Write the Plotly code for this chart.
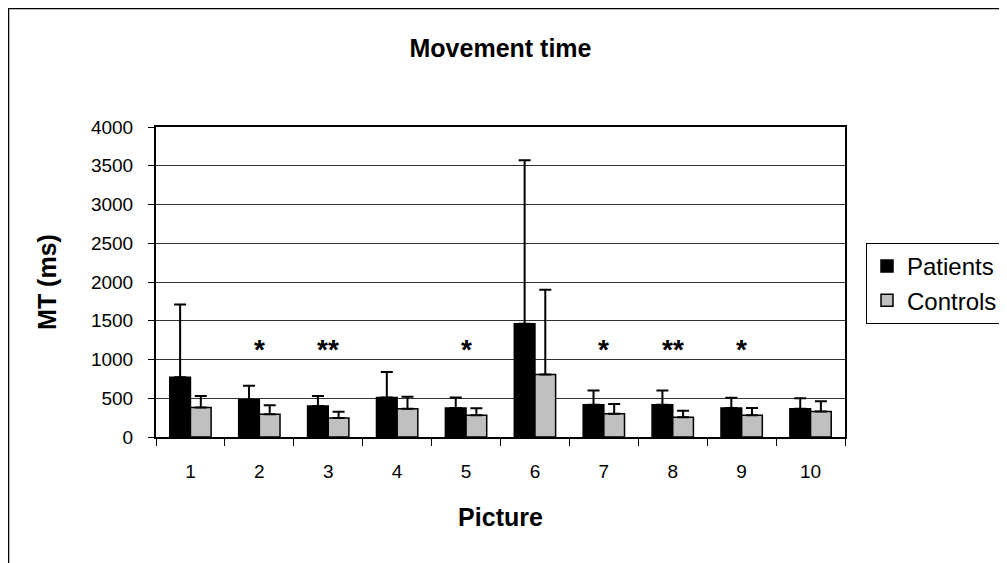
import plotly.graph_objects as go

pictures = ["1", "2", "3", "4", "5", "6", "7", "8", "9", "10"]
patients_mean = [770, 480, 400, 510, 375, 1460, 415, 415, 375, 365]
patients_sd = [940, 180, 130, 330, 135, 2110, 185, 185, 130, 135]
controls_mean = [380, 295, 245, 365, 280, 805, 300, 255, 280, 330]
controls_sd = [150, 115, 80, 155, 90, 1095, 125, 85, 95, 130]
significance = ["", "*", "**", "", "*", "", "*", "**", "*", ""]
y_ticks = [0, 500, 1000, 1500, 2000, 2500, 3000, 3500, 4000]

FONT = "Arial, Liberation Sans, sans-serif"

fig = go.Figure()
fig.add_trace(go.Bar(
    name="Patients", x=pictures, y=patients_mean,
    marker=dict(color="black", line=dict(color="black", width=1.5)),
    error_y=dict(type="data", symmetric=False, array=patients_sd,
                 arrayminus=[0] * len(patients_sd), color="black",
                 thickness=2, width=6),
    legendgroup="p",
))
fig.add_trace(go.Bar(
    name="Controls", x=pictures, y=controls_mean,
    marker=dict(color="#c0c0c0", line=dict(color="black", width=1.5)),
    error_y=dict(type="data", symmetric=False, array=controls_sd,
                 arrayminus=[0] * len(controls_sd), color="black",
                 thickness=2, width=6),
    legendgroup="c",
))

for i, s in enumerate(significance):
    if s:
        fig.add_annotation(x=i, y=1130, text="<b>" + s + "</b>", showarrow=False,
                           font=dict(family=FONT, size=28, color="black"),
                           xref="x", yref="y", yanchor="middle")

# page has an 8px body margin; figure is placed at (8, 8)
OFF = 8
W, H = 1007 - OFF, 563 - OFF
L = 156 - OFF
T = 127 - OFF
R = W - (845 - OFF)
B = H - (437 - OFF)
pw, ph = W - L - R, H - T - B


def px(x):
    return (x - OFF - L) / pw


def py(y):
    return (H - B - (y - OFF)) / ph


fig.add_shape(type="rect", xref="paper", yref="paper",
              x0=px(8.5), x1=px(1000), y0=py(580), y1=py(8.5),
              line=dict(color="black", width=1.5), layer="below")

TICKFONT = dict(family=FONT, size=19, color="black")

fig.update_layout(
    width=W, height=H,
    margin=dict(l=L, r=R, t=T, b=B, autoexpand=False),
    paper_bgcolor="white", plot_bgcolor="white",
    barmode="group", bargap=0.4, bargroupgap=0,
    font=dict(family=FONT, size=19, color="black"),
    title=dict(text="<b>Movement time</b>", x=0.5, xref="paper",
               y=1 - (48 - OFF) / H, yanchor="middle",
               font=dict(family=FONT, size=25, color="black")),
    showlegend=True,
    legend=dict(x=px(866), y=py(243), xanchor="left", yanchor="top",
                bordercolor="black", borderwidth=1, bgcolor="white",
                font=dict(family=FONT, size=24, color="black"),
                tracegroupgap=4, traceorder="normal",
                itemwidth=30),
    xaxis=dict(type="category", showline=True, linecolor="black", linewidth=2,
               mirror=True, ticks="outside", tickson="boundaries", ticklen=7,
               tickcolor="black", tickwidth=1, ticklabelstandoff=16,
               tickfont=TICKFONT, showgrid=False,
               title=dict(text="<b>Picture</b>", standoff=28,
                          font=dict(family=FONT, size=25))),
    yaxis=dict(range=[0, 4000], tickvals=y_ticks, showline=True,
               linecolor="black", linewidth=2, mirror=True,
               ticks="outside", ticklen=6, tickcolor="black", tickwidth=1,
               ticklabelstandoff=11, tickfont=TICKFONT,
               showgrid=True, gridcolor="#333333", gridwidth=1,
               zeroline=False,
               title=dict(text="<b>MT (ms)</b>", standoff=27,
                          font=dict(family=FONT, size=25))),
)

fig.write_html("out.html")
